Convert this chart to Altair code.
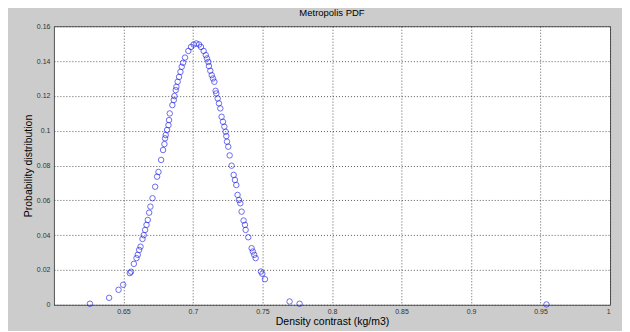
import altair as alt
import pandas as pd

# Sample points (density contrast, probability)
x_vals = [
    0.6259, 0.6397, 0.6465, 0.6498, 0.6546, 0.6555, 0.6575, 0.6594, 0.6603, 0.6613,
    0.6623, 0.6637, 0.6646, 0.6656, 0.6666, 0.6675, 0.6685, 0.6694, 0.6709, 0.6728,
    0.6742, 0.6752, 0.6771, 0.6785, 0.6795, 0.6799, 0.6804, 0.6814, 0.6824, 0.6828,
    0.6833, 0.6852, 0.6862, 0.6867, 0.6876, 0.6881, 0.6890, 0.6900, 0.6910, 0.6919,
    0.6929, 0.6943, 0.6967, 0.6986, 0.7005, 0.7025, 0.7044, 0.7058, 0.7077, 0.7092,
    0.7101, 0.7111, 0.7115, 0.7125, 0.7135, 0.7144, 0.7154, 0.7163, 0.7168, 0.7178,
    0.7187, 0.7197, 0.7206, 0.7216, 0.7226, 0.7235, 0.7240, 0.7245, 0.7254, 0.7264,
    0.7278, 0.7293, 0.7302, 0.7312, 0.7321, 0.7331, 0.7341, 0.7350, 0.7364, 0.7374,
    0.7379, 0.7398, 0.7422, 0.7431, 0.7441, 0.7451, 0.7489, 0.7499, 0.7518, 0.7695,
    0.7767, 0.9543,
]
y_vals = [
    0.0006, 0.0040, 0.0086, 0.0115, 0.0182, 0.0190, 0.0235, 0.0268, 0.0287, 0.0315,
    0.0334, 0.0378, 0.0400, 0.0430, 0.0459, 0.0487, 0.0529, 0.0564, 0.0612, 0.0678,
    0.0736, 0.0763, 0.0832, 0.0889, 0.0923, 0.0956, 0.0975, 0.1004, 0.1032, 0.1061,
    0.1099, 0.1147, 0.1176, 0.1199, 0.1233, 0.1252, 0.1281, 0.1309, 0.1338, 0.1367,
    0.1390, 0.1420, 0.1458, 0.1481, 0.1495, 0.1501, 0.1495, 0.1481, 0.1458, 0.1434,
    0.1415, 0.1395, 0.1371, 0.1344, 0.1319, 0.1300, 0.1281, 0.1229, 0.1214, 0.1185,
    0.1157, 0.1128, 0.1080, 0.1051, 0.1023, 0.0994, 0.0969, 0.0937, 0.0908, 0.0858,
    0.0799, 0.0746, 0.0717, 0.0688, 0.0631, 0.0602, 0.0583, 0.0535, 0.0484, 0.0459,
    0.0430, 0.0388, 0.0325, 0.0306, 0.0287, 0.0268, 0.0191, 0.0178, 0.0147, 0.0019,
    0.0006, 0.0002,
]
x_ticks = [0.65, 0.7, 0.75, 0.8, 0.85, 0.9, 0.95, 1.0]
y_ticks = [0, 0.02, 0.04, 0.06, 0.08, 0.1, 0.12, 0.14, 0.16]

df = pd.DataFrame({"x": x_vals, "y": y_vals})

font = "Liberation Sans"

chart = (
    alt.Chart(df)
    .mark_point(shape="circle", filled=False, size=30, strokeWidth=0.9, color="#1a1ae6")
    .encode(
        x=alt.X(
            "x:Q",
            scale=alt.Scale(domain=[0.6, 1.0], nice=False, zero=False),
            axis=alt.Axis(values=x_ticks, format="~g", title="Density contrast (kg/m3)",
                          labelPadding=3, titlePadding=2),
        ),
        y=alt.Y(
            "y:Q",
            scale=alt.Scale(domain=[0, 0.16], nice=False),
            axis=alt.Axis(values=y_ticks, format="~g", title="Probability distribution",
                          labelPadding=4, titlePadding=3),
        ),
    )
    .properties(
        width=557,
        height=279,
        title=alt.TitleParams("Metropolis PDF", fontSize=9.5, fontWeight="normal",
                              font=font, color="#000", offset=5),
        background="#cccccc",
        autosize=alt.AutoSizeParams(type="none"),
        padding={"left": 46, "top": 18, "right": 12, "bottom": 26},
    )
    .configure_view(fill="white", stroke="#555555", strokeWidth=1)
    .configure_axis(
        grid=True,
        gridColor="#333333",
        gridDash=[1, 2],
        gridOpacity=0.8,
        gridWidth=1,
        domain=False,
        ticks=False,
        labelFont=font,
        labelFontSize=7,
        labelColor="#333333",
        titleFont=font,
        titleFontSize=10.5,
        titleFontWeight="normal",
        titleColor="#000000",
    )
)

chart.save("out.html", embed_options={"renderer": "svg", "actions": False})
